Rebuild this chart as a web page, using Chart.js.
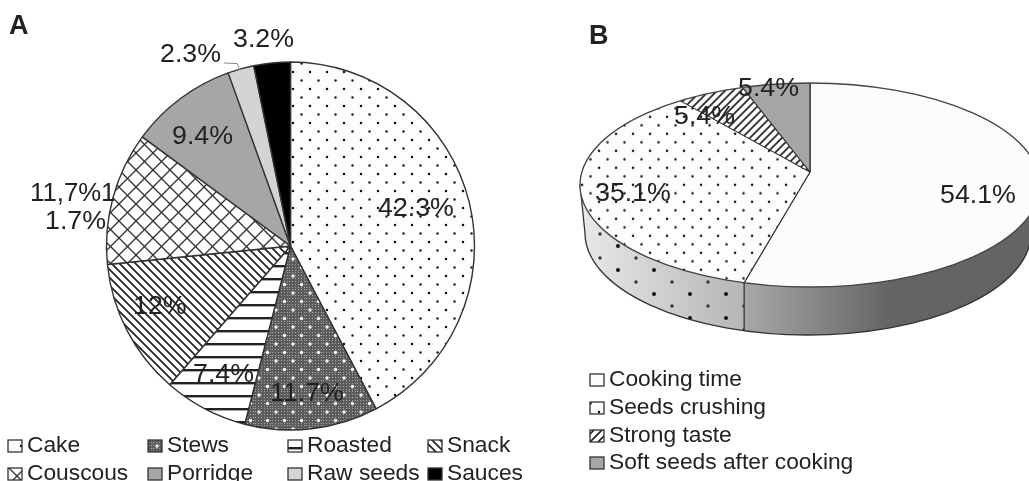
<!DOCTYPE html>
<html>
<head>
<meta charset="utf-8">
<style>
html,body{margin:0;padding:0;background:#fff;overflow:hidden;width:1029px;height:481px}
canvas{position:absolute;left:0;top:0;filter:blur(0.65px)}
</style>
<script src="https://cdn.jsdelivr.net/npm/chart.js@4"></script>
</head>
<body>
<canvas id="a" width="1029" height="481"></canvas>
<canvas id="b" width="1029" height="481"></canvas>
<script>
// ---- data ----
const usesCategories = ["Cake","Stews","Roasted","Snack","Couscous","Porridge","Raw seeds","Sauces"];
const usesValues = [42.3,11.7,7.4,12,11.7,9.4,2.3,3.2];
const usesLabels = ["42.3%","11.7%","7.4%","12%","11,7%1","9.4%","2.3%","3.2%"];
const issueCategories = ["Cooking time","Seeds crushing","Strong taste","Soft seeds after cooking"];
const issueValues = [54.1,35.1,5.4,5.4];
const issueLabels = ["54.1%","35.1%","5.4%","5.4%"];

// ---- styling ----
const FONT = '"Liberation Sans", Arial, sans-serif';
const INK = '#222';
const SQUASH = 0.443;
const STRETCH = 1.07;
const KEY_STRETCH = 1.035;

function tile(w,h,draw){
  const c=document.createElement('canvas');c.width=w;c.height=h;
  const g=c.getContext('2d');draw(g,w,h);
  return g.createPattern(c,'repeat');
}
function dot(g,x,y,r,col){g.fillStyle=col;g.beginPath();g.arc(x,y,r,0,Math.PI*2);g.fill();}
function dotsTile(r){return tile(17,17,(g)=>{g.fillStyle='#fdfdfd';g.fillRect(0,0,17,17);dot(g,4,4,r,'#111');dot(g,12.5,12.5,r,'#222');});}
const dots=dotsTile(1.25);
const stews=tile(17,17,(g)=>{
  g.fillStyle='#5c5c5c';g.fillRect(0,0,17,17);
  for(let x=0;x<17;x+=3)for(let y=0;y<17;y+=3){g.fillStyle='#a8a8a8';g.fillRect(x,y,1,1);}
  dot(g,4,4,1.7,'#fafafa');dot(g,12.5,12.5,1.7,'#fafafa');
});
const roasted=tile(13,13,(g)=>{g.fillStyle='#fff';g.fillRect(0,0,13,13);g.fillStyle='#222';g.fillRect(0,5,13,2.4);});
function diag(g,n,back,lw,col){
  g.strokeStyle=col;g.lineWidth=lw;g.beginPath();
  if(back){g.moveTo(-n,0);g.lineTo(n,2*n);g.moveTo(0,-n);g.lineTo(2*n,n);g.moveTo(0,0);g.lineTo(n,n);}
  else{g.moveTo(0,n);g.lineTo(n,0);g.moveTo(-n,n);g.lineTo(n,-n);g.moveTo(0,2*n);g.lineTo(2*n,0);}
  g.stroke();
}
const snack=tile(8,8,(g,w)=>{g.fillStyle='#fff';g.fillRect(0,0,w,w);diag(g,w,true,1.7,'#222');});
const couscous=tile(17,17,(g,w)=>{g.fillStyle='#fff';g.fillRect(0,0,w,w);diag(g,w,true,1.35,'#333');diag(g,w,false,1.35,'#333');});
const taste=tile(8,8,(g,w)=>{g.fillStyle='#fff';g.fillRect(0,0,w,w);diag(g,w,false,1.7,'#222');});
const usesFills=[dots,stews,roasted,snack,couscous,'#a6a6a6','#d4d4d4','#000'];

const dotsB=dotsTile(1.25);
dotsB.setTransform(new DOMMatrix().scale(1,1/SQUASH));
const tasteB=tile(8,8,(g,w)=>{g.fillStyle='#fff';g.fillRect(0,0,w,w);diag(g,w,false,1.7,'#222');});
tasteB.setTransform(new DOMMatrix().scale(1,1/SQUASH));
const issueFills=['#fcfcfc',dotsB,tasteB,'#a6a6a6'];
const issueKeys=['#fcfcfc',dots,taste,'#a6a6a6'];

function writeText(ctx,text,x,y,size,bold,stretch){
  ctx.save();
  ctx.font=(bold?'bold ':'')+size+'px '+FONT;
  ctx.fillStyle=INK;ctx.textAlign='left';ctx.textBaseline='middle';
  ctx.translate(x,y);ctx.scale(stretch||STRETCH,1);
  ctx.fillText(text,0,0);
  ctx.restore();
}
function legendRow(ctx,fill,label,x,y,size){
  ctx.fillStyle=fill;ctx.fillRect(x,y-6,14,12);
  ctx.strokeStyle='#333';ctx.lineWidth=1.3;ctx.strokeRect(x,y-6,14,12);
  writeText(ctx,label,x+19,y,size,false,KEY_STRETCH);
}

// ---- chart A ----
const panelA={id:'panelA',afterDraw(chart){
  const c=chart.ctx;
  writeText(c,'A',9,27,27,true,1);
  const spots=[[378,209],[270,394],[193,375],[133,307],[30,194],[172,137],[160,55],[233,40]];
  usesLabels.forEach((t,i)=>writeText(c,t,spots[i][0],spots[i][1],25,false,i===4?1.03:STRETCH));
  writeText(c,'1.7%',45,222,25);
  c.strokeStyle='#888';c.lineWidth=1;c.beginPath();c.moveTo(224,63);c.lineTo(237,63.5);c.lineTo(240,70);c.stroke();
  const cols=[8,148,288,428],rows=[446,474];
  usesCategories.forEach((t,i)=>legendRow(c,usesFills[i],t,cols[i%4],rows[i>3?1:0],22));
}};
new Chart(document.getElementById('a'),{
  type:'pie',
  data:{labels:usesCategories,datasets:[{data:usesValues,backgroundColor:usesFills,borderColor:'#333',borderWidth:1.4,radius:184,clip:false}]},
  options:{responsive:false,animation:false,layout:{padding:{left:0,right:448,top:11,bottom:0}},
    plugins:{legend:{display:false},tooltip:{enabled:false}}},
  plugins:[panelA]
});

// ---- chart B ----
const rim={x:810,y:185,rx:230,ry:102};
const base={x:808,y:233,rx:223,ry:102};
function rimPoint(apex,angle){
  const dx=Math.cos(angle),dy=SQUASH*Math.sin(angle),oy=apex.y-rim.y;
  const A=dx*dx/(rim.rx*rim.rx)+dy*dy/(rim.ry*rim.ry);
  const B=2*dy*oy/(rim.ry*rim.ry);
  const C=oy*oy/(rim.ry*rim.ry)-1;
  const t=(-B+Math.sqrt(B*B-4*A*C))/(2*A);
  return {x:apex.x+t*dx,y:apex.y+t*dy};
}
const panelB={id:'panelB',
  beforeDatasetsDraw(chart){
    const c=chart.ctx,arc=chart.getDatasetMeta(0).data[0];
    const edge=rimPoint(arc,arc.endAngle);
    const wall=()=>{
      c.beginPath();
      c.moveTo(rim.x-rim.rx,rim.y);
      c.lineTo(base.x-base.rx,base.y);
      c.ellipse(base.x,base.y,base.rx,base.ry,0,Math.PI,0,true);
      c.lineTo(rim.x+rim.rx,rim.y);
      c.closePath();
    };
    c.save();wall();c.clip();
    let g=c.createLinearGradient(580,0,edge.x,0);
    g.addColorStop(0,'#e8e8e8');g.addColorStop(1,'#b6b6b6');
    c.fillStyle=g;c.fillRect(560,170,edge.x-560,190);
    c.fillStyle=tile(36,24,(t)=>{dot(t,6,6,2,'#111');dot(t,24,18,1.7,'#333');});
    c.fillRect(560,170,edge.x-560,190);
    g=c.createLinearGradient(edge.x,0,890,0);
    g.addColorStop(0,'#a8a8a8');g.addColorStop(1,'#646464');
    c.fillStyle=g;c.fillRect(edge.x,170,1029-edge.x,190);
    c.restore();
    c.strokeStyle='#333';c.lineWidth=1.3;wall();c.stroke();
    c.beginPath();c.moveTo(edge.x,edge.y);c.lineTo(edge.x,edge.y+48);c.stroke();
    c.save();
    c.beginPath();c.ellipse(rim.x,rim.y,rim.rx,rim.ry,0,0,Math.PI*2);
    c.fillStyle='#fcfcfc';c.fill();c.clip();
    c.translate(arc.x,arc.y);c.scale(1,SQUASH);c.translate(-arc.x,-arc.y);
  },
  afterDatasetsDraw(chart){
    const c=chart.ctx;
    c.restore();
    c.strokeStyle='#444';c.lineWidth=1.3;
    c.beginPath();c.ellipse(rim.x,rim.y,rim.rx,rim.ry,0,0,Math.PI*2);c.stroke();
  },
  afterDraw(chart){
    const c=chart.ctx;
    writeText(c,'B',589,37,27,true,1);
    const spots=[[940,196],[595,194],[674,117],[738,89]];
    issueLabels.forEach((t,i)=>writeText(c,t,spots[i][0],spots[i][1],25));
    const rows=[380,408,436,463];
    issueCategories.forEach((t,i)=>legendRow(c,issueKeys[i],t,590,rows[i],22));
  }
};
new Chart(document.getElementById('b'),{
  type:'pie',
  data:{labels:issueCategories,datasets:[{data:issueValues,backgroundColor:issueFills,borderColor:'#333',borderWidth:1.3,radius:290,clip:false}]},
  options:{responsive:false,animation:false,layout:{padding:{left:591,right:0,top:0,bottom:137}},
    plugins:{legend:{display:false},tooltip:{enabled:false}}},
  plugins:[panelB]
});
</script>
</body>
</html>
